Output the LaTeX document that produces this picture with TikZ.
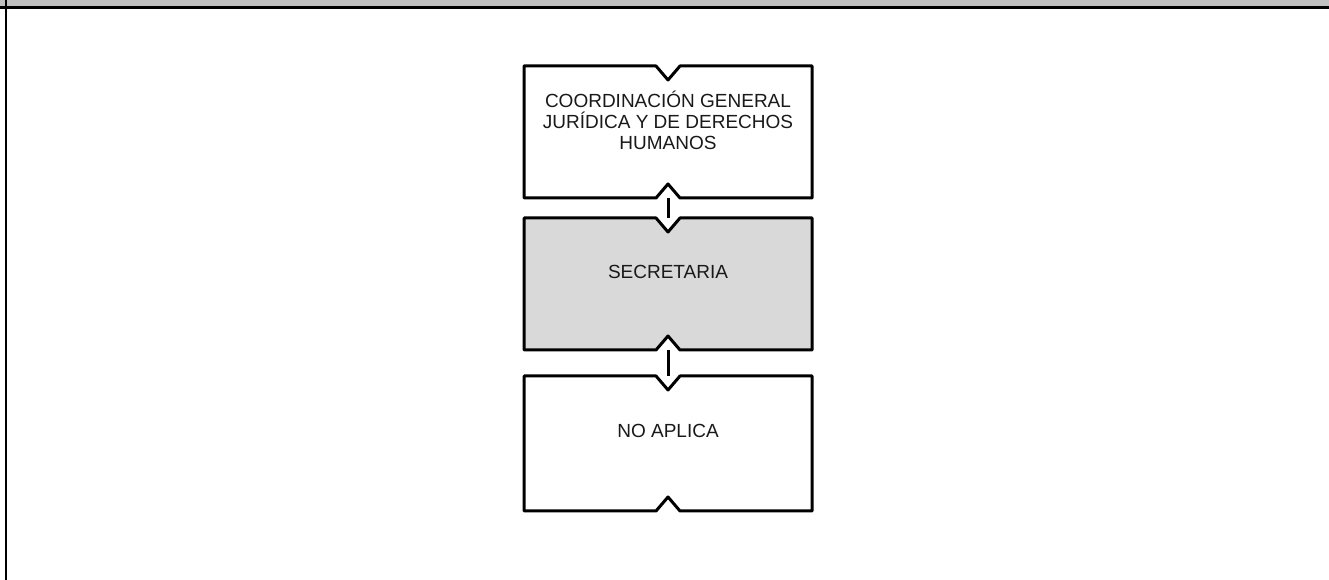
\documentclass[tikz,border=0pt]{standalone}
\usepackage{fontspec}
\setmainfont{Liberation Sans}
\usetikzlibrary{calc}
\definecolor{bandgray}{HTML}{C0C0C0}
\definecolor{boxgray}{HTML}{D9D9D9}
\tikzset{
  orgbox/.style={rectangle, minimum width=288pt, inner sep=0pt, outer sep=0pt},
  boxline/.style={line width=3pt, line join=round, draw=black},
  conn/.style={line width=3pt, draw=black},
  boxtext/.style={font=\fontsize{19pt}{21pt}\selectfont, align=center, text=black!90},
}
\newcommand\notchedbox[2]{%
  \draw[boxline, fill=#2]
    (#1.north west) -- ($(#1.north)+(-12pt,0)$) -- ($(#1.north)+(0,-14pt)$) -- ($(#1.north)+(12pt,0)$)
    -- (#1.north east) -- (#1.south east)
    -- ($(#1.south)+(12pt,0)$) -- ($(#1.south)+(0,14pt)$) -- ($(#1.south)+(-12pt,0)$)
    -- (#1.south west) -- cycle;}
\begin{document}
\begin{tikzpicture}[x=1pt,y=1pt]
\useasboundingbox (0,0) rectangle (1329,580);
% header band
\fill[bandgray] (0,574) rectangle (1329,580);
\coordinate (hl) at (0,572.5);
\coordinate (hr) at (1329,572.5);
\draw[line width=3pt] (hl) -- (hr);
\coordinate (vt) at (6,580);
\coordinate (vb) at (6,0);
\draw[line width=2.5pt] (vt) -- (vb);
% boxes
\node[orgbox, minimum height=132pt] (b1) at (668,448) {};
\node[orgbox, minimum height=132pt] (b2) at (668,296) {};
\node[orgbox, minimum height=135pt] (b3) at (668,136.5) {};
\notchedbox{b1}{white}
\notchedbox{b2}{boxgray}
\notchedbox{b3}{white}
\node[boxtext] (t1) at ($(b1.center)+(0,12pt)$) {COORDINACIÓN GENERAL\\JURÍDICA Y DE DERECHOS\\HUMANOS};
\node[boxtext] (t2) at ($(b2.center)+(0,12.5pt)$) {SECRETARIA};
\node[boxtext] (t3) at ($(b3.center)+(0,12.5pt)$) {NO APLICA};
% connectors
\draw[conn] (b1.south) -- (b2.north);
\draw[conn] (b2.south) -- (b3.north);
\end{tikzpicture}
\end{document}
